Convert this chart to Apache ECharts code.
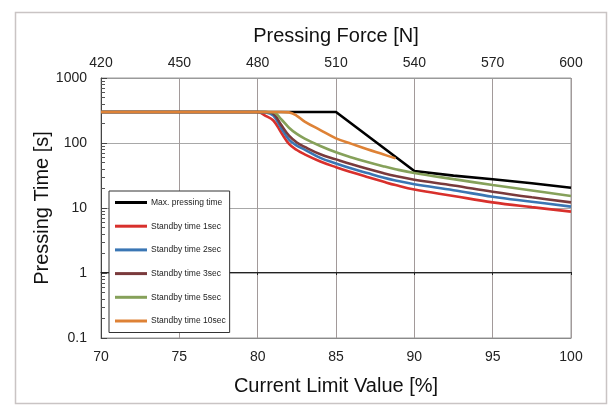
<!DOCTYPE html>
<html>
<head>
<meta charset="utf-8">
<script src="https://cdn.jsdelivr.net/npm/echarts@6/dist/echarts.min.js"></script>
<style>
html,body{margin:0;padding:0;background:#fff;}
#chart{width:615px;height:408px;}
</style>
</head>
<body>
<div id="chart"></div>
<script>
// ---- data ----
const currentLimit = [70, 80, 80.5, 81, 81.5, 82, 82.5, 83, 84, 85, 86, 87, 88, 88.8, 90, 92.5, 95, 97.5, 100];
const maxPressing  = [300, 300, 300, 300, 300, 300, 300, 300, 300, 300, null, null, null, null, 37, 31.5, 27.7, 24, 20.5];
const standby1     = [300, 300, 262, 222, 145, 97, 78, 67, 52, 42.5, 35.5, 30, 25.5, 22.5, 19.2, 15.3, 12.2, 10.3, 8.8];
const standby2     = [300, 300, 296, 265, 170, 113, 91, 79, 59, 48.5, 40.5, 34.5, 29.5, 26.5, 23.2, 18.8, 14.9, 12.5, 10.5];
const standby3     = [300, 300, 300, 282, 190, 130, 102, 87, 67, 56, 47, 40, 34.5, 31, 27.2, 22.2, 17.8, 14.6, 12.2];
const standby5     = [300, 300, 300, 298, 232, 172, 138, 117, 90, 72, 60, 51, 44, 39.5, 34.5, 27.8, 22.6, 18.6, 15.3];
const standby10    = [300, 300, 300, 300, 300, 296, 262, 214, 158, 118, 97, 80, 67, 58, null, null, null, null, null];

const seriesNames = ['Max. pressing time', 'Standby time 1sec', 'Standby time 2sec', 'Standby time 3sec', 'Standby time 5sec', 'Standby time 10sec'];
const currentTicks = [70, 75, 80, 85, 90, 95, 100];
const forceTicks = [420, 450, 480, 510, 540, 570, 600];
const timeTicks = [0.1, 1, 10, 100, 1000];

// ---- styling ----
const colors = ['#000000', '#d8302c', '#3a76b4', '#7a3a3c', '#86a15a', '#de8236'];
const FONT = 'Liberation Sans, Arial, sans-serif';

const minorTicks = [];
for (let d = 0; d < timeTicks.length - 1; d++) {
  for (let m = 2; m <= 9; m++) minorTicks.push(+(timeTicks[d] * m).toPrecision(3));
}

function pairs(arr) { return currentLimit.map((x, i) => [x, arr[i]]); }
const allSeries = [maxPressing, standby1, standby2, standby3, standby5, standby10];

const chart = echarts.init(document.getElementById('chart'), null, {renderer: 'canvas'});
chart.setOption({
  backgroundColor: '#ffffff',
  animation: false,
  textStyle: {fontFamily: FONT},
  graphic: [{
    type: 'rect', left: 13, top: 10, z: -10,
    shape: {width: 591, height: 391},
    style: {fill: 'none', stroke: '#c9c4c4', lineWidth: 1.5}
  }],
  grid: {left: 101, right: 44, top: 78, bottom: 70, show: true, borderColor: '#9a9a9a', borderWidth: 1, containLabel: false},
  legend: {
    orient: 'vertical', left: 109, top: 191,
    data: seriesNames,
    icon: 'rect', itemWidth: 32, itemHeight: 3, itemGap: 12.7,
    padding: [6, 4, 6, 6],
    backgroundColor: '#ffffff', borderColor: '#333333', borderWidth: 1,
    textStyle: {fontSize: 8.5, color: '#222', lineHeight: 11, fontFamily: FONT, padding: [0, 0, 0, -1]}
  },
  xAxis: [
    {
      type: 'value', position: 'bottom', min: currentTicks[0], max: currentTicks[currentTicks.length - 1], interval: 5,
      name: 'Current Limit Value [%]', nameLocation: 'middle', nameGap: 38,
      nameTextStyle: {fontSize: 20, color: '#111', fontFamily: FONT},
      axisLine: {show: true, lineStyle: {color: '#8a8a8a', width: 1}},
      axisTick: {show: false},
      axisLabel: {fontSize: 14, color: '#222', margin: 12},
      splitLine: {show: true, lineStyle: {color: '#a29a9a', width: 1}}
    },
    {
      type: 'value', position: 'top', min: forceTicks[0], max: forceTicks[forceTicks.length - 1], interval: 30,
      name: 'Pressing Force [N]', nameLocation: 'middle', nameGap: 32,
      nameTextStyle: {fontSize: 20, color: '#111', fontFamily: FONT},
      axisLine: {show: true, lineStyle: {color: '#9a9a9a'}},
      axisTick: {show: false},
      axisLabel: {fontSize: 14, color: '#222', margin: 8},
      splitLine: {show: false}
    },
    {
      type: 'value', position: 'bottom', offset: -66, min: 70, max: 100, interval: 5,
      axisLine: {show: true, lineStyle: {color: '#222', width: 1}},
      axisTick: {show: true, length: 3, lineStyle: {color: '#222'}},
      axisLabel: {show: false},
      splitLine: {show: false}
    }
  ],
  yAxis: [
    {
      type: 'log', logBase: 10, min: timeTicks[0], max: timeTicks[timeTicks.length - 1], splitNumber: 4,
      name: 'Pressing Time [s]', nameLocation: 'middle', nameGap: 49, nameMoveOverlap: false,
      nameTextStyle: {fontSize: 20, color: '#111', fontFamily: FONT},
      axisLine: {show: true, lineStyle: {color: '#444', width: 1}},
      axisTick: {show: true, inside: true, length: 6, lineStyle: {color: '#444'}},
      axisLabel: {fontSize: 14, color: '#222', margin: 14, formatter: v => String(v)},
      splitLine: {show: true, lineStyle: {color: '#a8a8a8', width: 1}}
    },
    {
      type: 'log', logBase: 10, position: 'left', min: timeTicks[0], max: timeTicks[timeTicks.length - 1],
      axisLine: {show: false},
      axisTick: {show: true, inside: true, length: 4, customValues: minorTicks, lineStyle: {color: '#555'}},
      axisLabel: {show: false},
      splitLine: {show: false}
    }
  ],
  series: allSeries.map((arr, i) => ({
    name: seriesNames[i],
    type: 'line',
    xAxisIndex: 0, yAxisIndex: 0,
    data: pairs(arr),
    showSymbol: false, symbol: 'none',
    connectNulls: i === 0,
    smooth: i === 0 ? false : 0.4,
    lineStyle: {color: colors[i], width: 2.6},
    itemStyle: {color: colors[i]},
    z: 2 + i
  }))
});
</script>
</body>
</html>
